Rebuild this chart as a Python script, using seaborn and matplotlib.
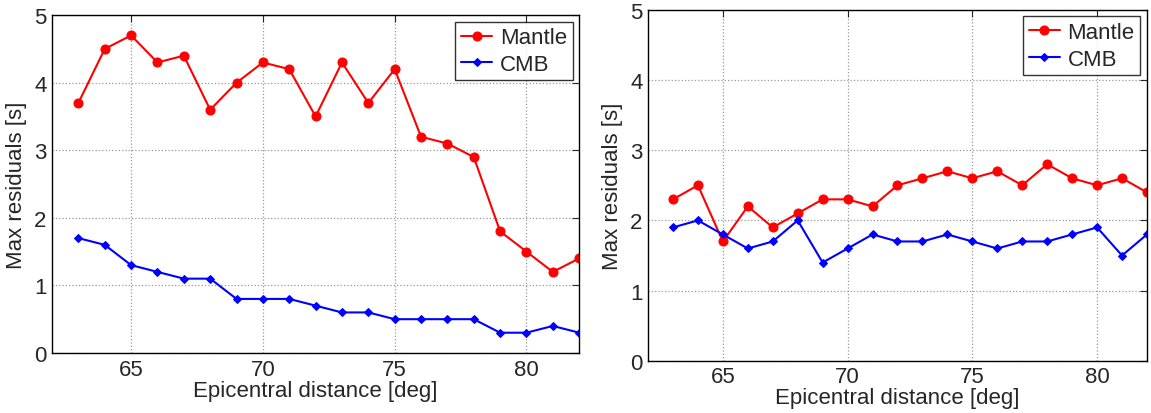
#Imports and config
import pandas as pd
import matplotlib.pyplot as plt
import seaborn as sns

# epicentral distances [deg]
dist = list(range(63, 83))

# left panel
mantle_left = [3.7, 4.5, 4.7, 4.3, 4.4, 3.6, 4.0, 4.3, 4.2, 3.5,
               4.3, 3.7, 4.2, 3.2, 3.1, 2.9, 1.8, 1.5, 1.2, 1.4]
cmb_left = [1.7, 1.6, 1.3, 1.2, 1.1, 1.1, 0.8, 0.8, 0.8, 0.7,
            0.6, 0.6, 0.5, 0.5, 0.5, 0.5, 0.3, 0.3, 0.4, 0.3]

# right panel
mantle_right = [2.3, 2.5, 1.7, 2.2, 1.9, 2.1, 2.3, 2.3, 2.2, 2.5,
                2.6, 2.7, 2.6, 2.7, 2.5, 2.8, 2.6, 2.5, 2.6, 2.4]
cmb_right = [1.9, 2.0, 1.8, 1.6, 1.7, 2.0, 1.4, 1.6, 1.8, 1.7,
             1.7, 1.8, 1.7, 1.6, 1.7, 1.7, 1.8, 1.9, 1.5, 1.8]

xticks = [65, 70, 75, 80]
yticks = [0, 1, 2, 3, 4, 5]

sns.set_style('white')
plt.rcParams['font.family'] = ['Liberation Sans', 'DejaVu Sans']

fig = plt.figure(figsize=(11.51, 4.14), dpi=100)
ax1 = fig.add_axes([0.0452, 0.145, 0.458, 0.816])
ax2 = fig.add_axes([0.563, 0.126, 0.4335, 0.848])

#==========================================================================
#draw_panel
#plots mantle and CMB residuals on one axis
#==========================================================================
def draw_panel(ax, mantle, cmb):
    df = pd.DataFrame({'dist': dist, 'Mantle': mantle, 'CMB': cmb})
    sns.lineplot(data=df, x='dist', y='Mantle', ax=ax, color='#ff0000',
                 marker='o', markersize=6.5, markeredgecolor='#ff0000',
                 linewidth=1.5, label='Mantle', errorbar=None)
    sns.lineplot(data=df, x='dist', y='CMB', ax=ax, color='#0000ff',
                 marker='D', markersize=4.5, markeredgecolor='#0000ff',
                 linewidth=1.5, label='CMB', errorbar=None)
    ax.set_xlim(62, 82)
    ax.set_ylim(0, 5)
    ax.set_xticks(xticks)
    ax.set_yticks(yticks)
    ax.grid(True, linestyle=':', color='#999999', linewidth=0.9)
    ax.tick_params(direction='in', top=True, right=True, labelsize=16,
                   length=5, width=0.8, pad=4)
    for sp in ax.spines.values():
        sp.set_color('black')
        sp.set_linewidth(1.0)
    ax.set_xlabel('Epicentral distance [deg]', fontsize=16, labelpad=0)
    ax.set_ylabel('Max residuals [s]', fontsize=16, labelpad=5)
    leg = ax.legend(loc='upper right', fontsize=16, frameon=True, fancybox=False,
                    borderaxespad=0.3, handlelength=1.4, handletextpad=0.35,
                    borderpad=0.25, labelspacing=0.25)
    leg.get_frame().set_edgecolor('black')
    leg.get_frame().set_linewidth(1.0)

draw_panel(ax1, mantle_left, cmb_left)
draw_panel(ax2, mantle_right, cmb_right)

plt.savefig('out.png', dpi=100)
